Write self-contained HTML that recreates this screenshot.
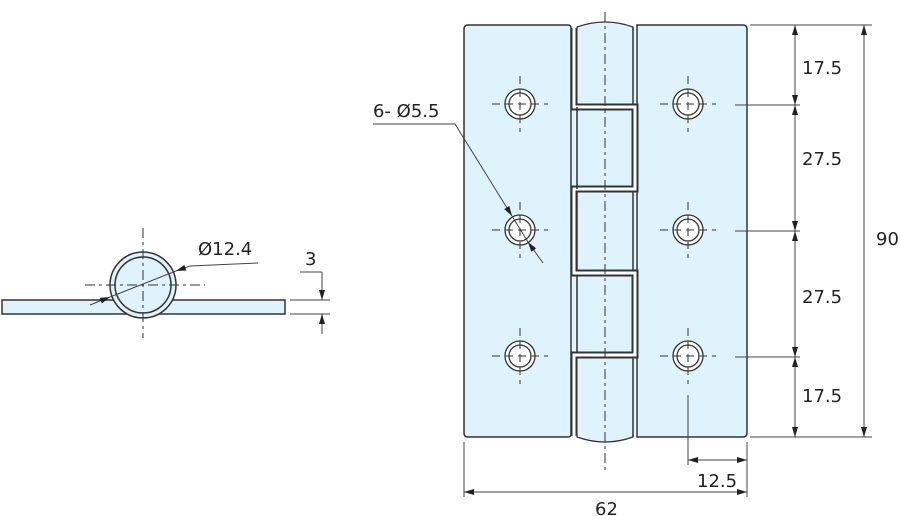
<!DOCTYPE html>
<html><head><style>body{margin:0;background:#fff}svg{display:block}text{font-family:"DejaVu Sans","Liberation Sans",sans-serif;font-size:18px;fill:#222}</style></head><body>
<svg width="900" height="516" viewBox="0 0 900 516" xmlns="http://www.w3.org/2000/svg">
<defs><marker id="a" viewBox="0 0 10 6" refX="10" refY="3" markerWidth="10" markerHeight="6" orient="auto-start-reverse" markerUnits="userSpaceOnUse"><path d="M0,0L10,3L0,6z" fill="#222"/></marker></defs>
<g stroke="#333" fill="#dff3fc" stroke-width="1.5">
<rect x="2" y="300" width="283" height="14"/>
<circle cx="143" cy="285" r="33"/>
<circle cx="143" cy="285" r="28"/>
<path d="M577,27 Q605,17 633,27 L633,437 Q605,447 577,437Z" stroke-width="1.2"/>
<path d="M468,25 H568 Q571,25 571,28 V434 Q571,437 568,437 H468 Q464,437 464,433 V29 Q464,25 468,25Z"/>
<path d="M637,25 H743 Q747,25 747,29 V433 Q747,437 743,437 H637Z"/>
</g>
<rect x="572" y="30" width="63" height="404" fill="#dff3fc"/>
<g fill="none">
<path d="M574,28 V107 H635 V189 H574 V273 H635 V355 H574 V436" stroke="#333" stroke-width="7"/>
<path d="M574,28 V107 H635 V189 H574 V273 H635 V355 H574 V436" stroke="#fff" stroke-width="3"/>
</g>
<g stroke="#333" stroke-width="1.5" fill="none">
<line x1="633" y1="27" x2="633" y2="105"/>
<line x1="577" y1="107" x2="577" y2="189"/><line x1="577" y1="192" x2="577" y2="270"/><line x1="577" y1="275" x2="577" y2="353"/>
<line x1="633" y1="192" x2="633" y2="270"/>
<line x1="633" y1="357" x2="633" y2="437"/>
</g>
<g stroke="#333" stroke-width="1.3" fill="#fff">
<circle cx="520" cy="104" r="15"/><circle cx="520" cy="104" r="11"/>
<circle cx="520" cy="230" r="15"/><circle cx="520" cy="230" r="11"/>
<circle cx="520" cy="356" r="15"/><circle cx="520" cy="356" r="11"/>
<circle cx="688" cy="104" r="15"/><circle cx="688" cy="104" r="11"/>
<circle cx="688" cy="230" r="15"/><circle cx="688" cy="230" r="11"/>
<circle cx="688" cy="356" r="15"/><circle cx="688" cy="356" r="11"/>
</g>
<g stroke="#333" stroke-width="1" stroke-dasharray="10,4,3,4" fill="none">
<line x1="605" y1="12" x2="605" y2="470"/>
<line x1="143" y1="228" x2="143" y2="338"/>
<line x1="85" y1="285" x2="205" y2="285"/>
</g>
<g stroke="#333" stroke-width="1" stroke-dasharray="8,5" fill="none">
<path d="M492,104H548M520,76V132M492,230H548M520,202V258M492,356H548M520,328V384"/>
<path d="M660,104H716M688,76V132M660,230H716M688,202V258M660,356H716M688,328V384"/>
</g>
<g stroke="#444" stroke-width="1" fill="none">
<path d="M90,305 L110,297" marker-end="url(#a)"/>
<path d="M110,297 L176,271"/>
<path d="M258,263 L190,266 L176,271" marker-end="url(#a)"/>
<line x1="290" y1="300" x2="330" y2="300"/><line x1="290" y1="314" x2="330" y2="314"/>
<line x1="300" y1="272" x2="322" y2="272"/>
<line x1="322" y1="272" x2="322" y2="300" marker-end="url(#a)"/>
<line x1="322" y1="334" x2="322" y2="314" marker-end="url(#a)"/>
<path d="M373,124 H455 L512,216" marker-end="url(#a)"/>
<line x1="512" y1="216" x2="528" y2="242"/>
<line x1="543" y1="263" x2="528" y2="242" marker-end="url(#a)"/>
<line x1="750" y1="25" x2="872" y2="25"/><line x1="750" y1="437" x2="872" y2="437"/>
<line x1="735" y1="105" x2="800" y2="105"/><line x1="735" y1="231" x2="800" y2="231"/><line x1="735" y1="357" x2="800" y2="357"/>
<line x1="795" y1="25" x2="795" y2="105" marker-start="url(#a)" marker-end="url(#a)"/>
<line x1="795" y1="105" x2="795" y2="231" marker-start="url(#a)" marker-end="url(#a)"/>
<line x1="795" y1="231" x2="795" y2="357" marker-start="url(#a)" marker-end="url(#a)"/>
<line x1="795" y1="357" x2="795" y2="437" marker-start="url(#a)" marker-end="url(#a)"/>
<line x1="864" y1="25" x2="864" y2="437" marker-start="url(#a)" marker-end="url(#a)"/>
<line x1="464" y1="442" x2="464" y2="497"/><line x1="747" y1="442" x2="747" y2="497"/>
<line x1="688" y1="395" x2="688" y2="465"/>
<line x1="688" y1="460" x2="747" y2="460" marker-start="url(#a)" marker-end="url(#a)"/>
<line x1="464" y1="492" x2="747" y2="492" marker-start="url(#a)" marker-end="url(#a)"/>
</g>
<text x="198" y="255">Ø12.4</text>
<text x="305" y="265">3</text>
<text x="373" y="117">6-  Ø5.5</text>
<text x="802" y="74">17.5</text>
<text x="802" y="165">27.5</text>
<text x="802" y="303">27.5</text>
<text x="802" y="402">17.5</text>
<text x="876" y="245">90</text>
<text x="697" y="487">12.5</text>
<text x="595" y="515">62</text>
</svg>
</body></html>
